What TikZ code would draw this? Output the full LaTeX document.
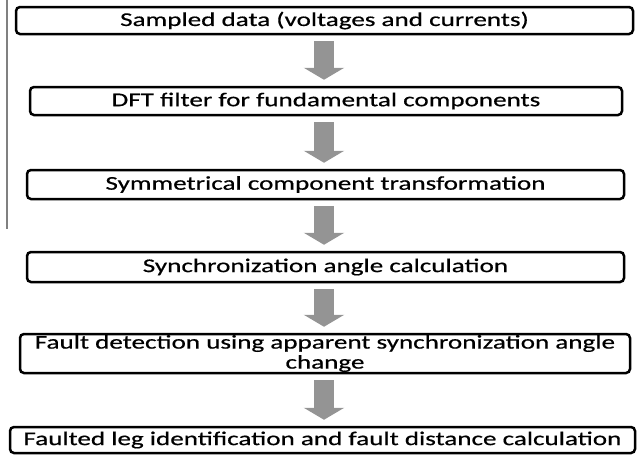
\documentclass[tikz,border=0pt]{standalone}
\usepackage{fontspec}
\setmainfont{Carlito}[FakeStretch=1.39,FakeBold=0.6]
\usepackage{tikz}
\usetikzlibrary{arrows.meta,positioning}

\tikzset{
  stepbox/.style={draw, line width=2.5pt, rounded corners=4pt, inner sep=0pt,
    align=center, font=\fontsize{19.5}{20}\selectfont},
  flowarrow/.style={draw=black!42, line width=20pt,
    -{Triangle[length=12pt,width=40pt]}, shorten <=6pt, shorten >=6pt}
}

\begin{document}
\begin{tikzpicture}[x=1pt,y=-1pt]
        \useasboundingbox (0,0) rectangle (637,456);
        \draw[black!50, line width=1.5pt] (7,0) -- (7,229);

        \node[stepbox, minimum width=617pt, minimum height=27pt] (data) at (324.5,20.5) {Sampled data (voltages and currents)};
        \node[stepbox, minimum width=592pt, minimum height=28pt] (dft) at (326,101) {DFT filter for fundamental components};
        \node[stepbox, minimum width=597pt, minimum height=29pt] (sym) at (325.5,184.5) {Symmetrical component transformation};
        \node[stepbox, minimum width=597pt, minimum height=30pt] (sync) at (325.5,267) {Synchronization angle calculation};
        \node[stepbox, minimum width=610pt, minimum height=39pt] (detect) at (325,353.5) {Fault detection using apparent synchronization angle\\change};
        \node[stepbox, minimum width=625pt, minimum height=26pt] (leg) at (322.5,440) {Faulted leg identification and fault distance calculation};

        \coordinate (mid) at (324,0);

        \draw[flowarrow] (data.south -| mid) -- (dft.north -| mid);
        \draw[flowarrow] (dft.south -| mid) -- (sym.north -| mid);
        \draw[flowarrow] (sym.south -| mid) -- (sync.north -| mid);
        \draw[flowarrow] (sync.south -| mid) -- (detect.north -| mid);
        \draw[flowarrow] (detect.south -| mid) -- (leg.north -| mid);
\end{tikzpicture}
\end{document}
